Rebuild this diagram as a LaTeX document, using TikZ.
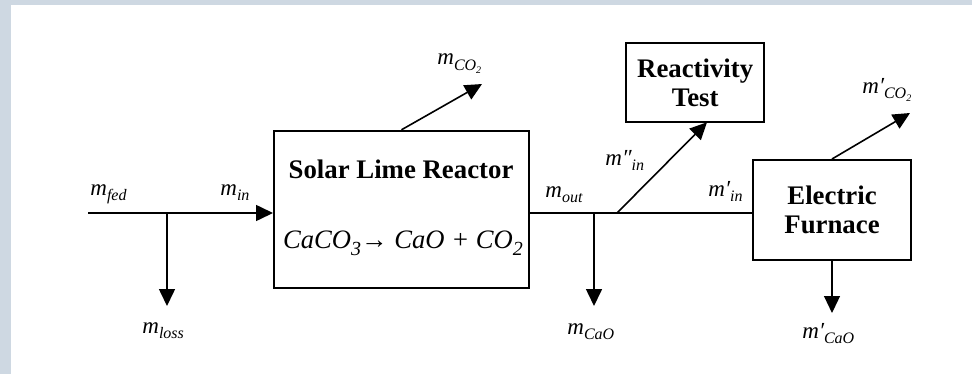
\documentclass[tikz,border=0pt]{standalone}
\usepackage{fontspec}
\setmainfont{Liberation Serif}
\usetikzlibrary{arrows.meta}
\definecolor{pageframe}{RGB}{206,216,226}
\newcommand{\lowidx}[1]{\raisebox{-0.55ex}{\footnotesize #1}}
\newcommand{\eqidx}[1]{\raisebox{-0.6ex}{\normalsize #1}}

\tikzset{
  unit/.style={draw,line width=1pt,inner sep=0pt,align=center,
    font=\fontsize{13.4}{14.5}\selectfont\bfseries},
  flow/.style={line width=0.8pt,-{Triangle[length=8.5pt,width=8pt]}},
  stream/.style={inner sep=0pt,anchor=base west,
    font=\fontsize{11.5}{12}\selectfont\itshape}
}

\begin{document}
\begin{tikzpicture}[x=0.5pt,y=-0.5pt]
  \fill[pageframe] (0,0) rectangle (972,374);
  \fill[white] (11,5) rectangle (972,374);
  \useasboundingbox (0,0) rectangle (972,374);

  \node[unit,minimum width=127.5pt,minimum height=78.5pt] (reactor) at (401.5,209.3) {};
  \node[anchor=base,inner sep=0pt,font=\fontsize{13.4}{14.5}\selectfont\bfseries]
    (rtitle) at (401,178) {Solar Lime Reactor};
  \node[anchor=base,inner sep=0pt,font=\fontsize{13.3}{14}\selectfont\itshape]
    (reqn) at (403,248) {CaCO\eqidx{3}\textup{→} CaO + CO\eqidx{2}};
  \node[unit,minimum width=69.2pt,minimum height=39.5pt] (test) at (695.2,82.8) {Reactivity\\Test};
  \node[unit,minimum width=78.7pt,minimum height=50pt] (furnace) at (832,210) {Electric\\Furnace};

  \coordinate (fed) at (88,213);
  \coordinate (split) at (167,213);
  \coordinate (losstip) at (167,306);
  \coordinate (co2tip) at (482,84);
  \coordinate (caojoin) at (594,213);
  \coordinate (caotip) at (594,306);
  \coordinate (testjoin) at (617,213);
  \coordinate (testtip) at (707,122.3);
  \coordinate (fco2tip) at (910,113);
  \coordinate (fcaotip) at (832,313);

  \draw[flow] (fed) -- (fed -| reactor.west);
  \draw[flow] (split) -- (losstip);
  \draw[flow] (reactor.north) -- (co2tip);
  \draw[line width=0.8pt] (reactor.east |- caojoin) -- (furnace.west |- caojoin);
  \draw[flow] (caojoin) -- (caotip);
  \draw[flow] (testjoin) -- (testtip);
  \draw[flow] (furnace.north) -- (fco2tip);
  \draw[flow,line width=0.6pt] (furnace.south) -- (fcaotip);

  \node[stream] (mfed) at (90,195) {m\lowidx{fed}};
  \node[stream] (min) at (220,195) {m\lowidx{in}};
  \node[stream] (mco2) at (437,65) {m\lowidx{CO\raisebox{-0.3ex}{\tiny 2}}};
  \node[stream] (mloss) at (142,333) {m\lowidx{loss}};
  \node[stream] (mout) at (545,197) {m\lowidx{out}};
  \node[stream] (mcao) at (567,334) {m\lowidx{CaO}};
  \node[stream] (mtest) at (605,165) {m″\lowidx{in}};
  \node[stream] (mfurn) at (708,196) {m′\lowidx{in}};
  \node[stream] (mfco2) at (862,93) {m′\lowidx{CO\raisebox{-0.3ex}{\tiny 2}}};
  \node[stream] (mfcao) at (802,338) {m′\lowidx{CaO}};
\end{tikzpicture}
\end{document}
